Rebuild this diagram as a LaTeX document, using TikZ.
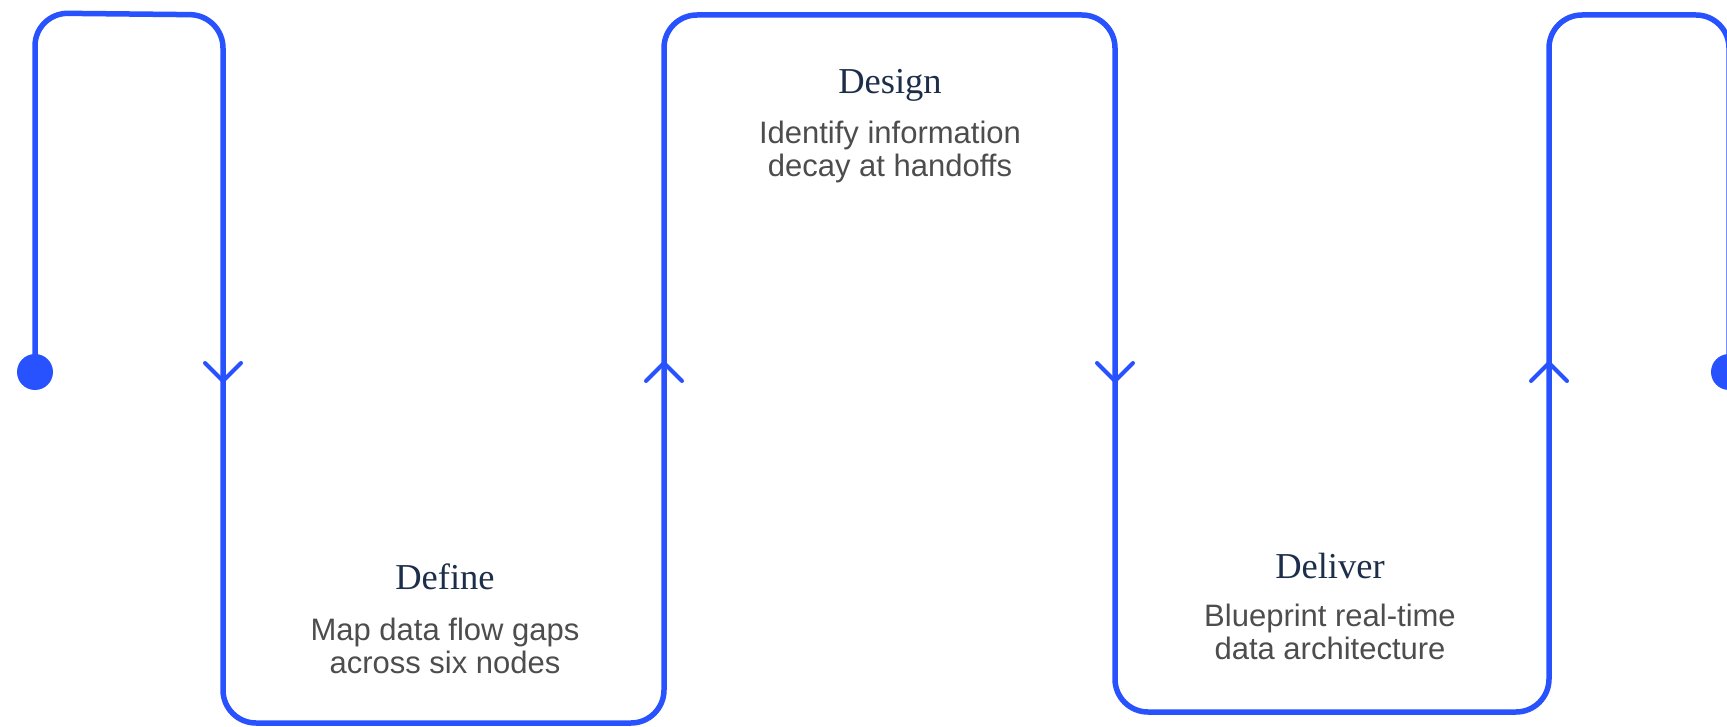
\documentclass[tikz,border=0pt]{standalone}
\usepackage{fontspec}
\setmainfont{Liberation Serif}
\newfontfamily\bodyfont{Liberation Sans}
\definecolor{flowblue}{HTML}{2952FF}
\definecolor{titlenavy}{HTML}{1C2E4A}
\definecolor{bodygray}{HTML}{4D4D4D}
\tikzset{
  flow/.style={draw=flowblue, line width=5.5pt, line join=round, line cap=round},
  chev/.style={draw=flowblue, line width=4pt, line cap=round, line join=miter},
  enddot/.style={circle, fill=flowblue, minimum size=36pt, inner sep=0pt},
  title/.style={text=titlenavy, font=\fontsize{36.5}{40}\selectfont, inner sep=0pt},
  body/.style={text=bodygray, font=\bodyfont\fontsize{31}{33}\selectfont, align=center, inner sep=0pt},
}
\begin{document}
\begin{tikzpicture}[x=1pt,y=-1pt]
\useasboundingbox (0,0) rectangle (1727,727);
\clip (0,0) rectangle (1727,727);
% end dots
\node[enddot] (start) at (35,372) {};
\node[enddot] (finish) at (1729,372) {};
% meander path
\coordinate (a1) at (35,13);
\coordinate (a2) at (223,15);
\coordinate (b1) at (223,723);
\coordinate (b2) at (664,723);
\coordinate (c1) at (664,15);
\coordinate (c2) at (1115,15);
\coordinate (d1) at (1115,712);
\coordinate (d2) at (1549,712);
\coordinate (e1) at (1549,15);
\coordinate (e2) at (1729,15);
\draw[flow, rounded corners=33pt] (start.center) -- (a1) -- (a2) -- (b1) -- (b2) -- (c1) -- (c2) -- (d1) -- (d2) -- (e1) -- (e2) -- (finish.center);
% chevrons
\draw[chev] (205,363) -- (223,381) -- (241,363);
\draw[chev] (646,381) -- (664,363) -- (682,381);
\draw[chev] (1097,363) -- (1115,381) -- (1133,363);
\draw[chev] (1531,381) -- (1549,363) -- (1567,381);
% texts
\node[title] (t1) at (445,577) {Define};
\node[body] (b1t) at (445,646) {Map data flow gaps\\across six nodes};
\node[title] (t2) at (890,85) {Design};
\node[body] (b2t) at (890,152) {Identify information\\decay at handoffs};
\node[title] (t3) at (1330,566) {Deliver};
\node[body] (b3t) at (1330,632) {Blueprint real-time\\data architecture};
\end{tikzpicture}
\end{document}
